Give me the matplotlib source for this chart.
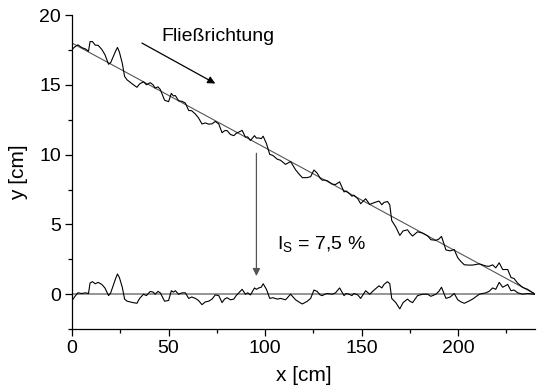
import matplotlib
matplotlib.use("Agg")
import matplotlib.pyplot as plt
from matplotlib.ticker import MultipleLocator

plt.rcParams['font.family'] = ['Liberation Sans', 'DejaVu Sans']
plt.rcParams['mathtext.fontset'] = 'custom'
plt.rcParams['mathtext.rm'] = 'Liberation Sans'

# Abweichung des Profils von der Ausgleichsgeraden
x_res = [0, 1.5, 3, 5, 7, 8.5, 9.3, 10.5, 12, 13.5, 15.4, 17, 18.9, 20, 21.5,
         22.5, 23.5, 24.5, 26, 27.2, 28.5, 30, 31.5, 33.6, 35, 37, 38.5, 40.5,
         42, 43, 44.5, 45.7, 47.9, 50, 51.4, 52.5, 53.5, 55.2, 57, 58.7, 60.4,
         62, 63.9, 65.5, 67.3, 69, 70.8, 72.5, 74.2, 76, 77.7, 79, 80.3, 82,
         83.8, 85, 86.4, 88.1, 89.8, 91, 92.4, 94.5, 95.5, 96.7, 98, 99, 100.7,
         102.4, 104, 106.3, 108, 110.6, 113.2, 114.5, 115.8, 118, 119.3, 121.9,
         123.6, 125.3, 127, 128.5, 129.6, 131, 132.2, 134.8, 136.5, 138.6,
         140.9, 142, 143.5, 145, 146, 148, 149.5, 152.1, 154.2, 156.5, 159,
         160.5, 161.6, 163.4, 164.6, 165.6, 167.7, 169.8, 171.5, 173.8, 175,
         176.4, 179, 181.6, 184.2, 185.9, 188.5, 190, 191.4, 193.7, 195.9, 198,
         199.8, 201.5, 203.2, 205.5, 207.5, 211, 214.4, 216, 217.9, 219.5,
         221.3, 223.1, 225.7, 227.4, 229, 230.9, 233.5, 236, 239.5]
y_res = [-0.45, -0.15, 0.1, 0.05, 0.1, 0.05, 0.8, 0.9, 0.75, 0.85, 0.7, 0.45,
         -0.1, 0.1, 0.7, 1.1, 1.45, 1.2, 0.5, -0.35, -0.5, -0.55, -0.6, -0.65,
         -0.3, 0.0, -0.1, 0.2, 0.15, 0.0, 0.2, 0.1, -0.5, -0.45, 0.25, 0.15,
         0.25, 0.0, 0.1, 0.1, -0.3, -0.2, -0.3, -0.45, -0.75, -0.55, -0.5,
         -0.35, -0.05, -0.1, -0.6, -0.35, -0.25, -0.4, -0.35, -0.1, 0.1, 0.35,
         0.0, 0.1, -0.05, 0.45, 0.35, 0.45, 0.5, 0.75, 0.35, -0.3, -0.25,
         -0.35, -0.3, -0.4, 0.0, -0.2, -0.4, -0.6, -0.7, -0.5, -0.3, 0.3, 0.2,
         -0.05, -0.1, 0.0, 0.05, 0.0, 0.1, 0.45, -0.1, 0.05, 0.0, -0.1, 0.05,
         -0.05, -0.3, 0.25, 0.0, 0.3, 0.6, 0.45, 0.7, 0.9, 0.75, -0.3, -0.6,
         -1.05, -0.6, -0.35, -0.5, -0.6, -0.1, 0.0, 0.0, -0.15, 0.0, 0.2, 0.5,
         -0.3, -0.2, 0.05, -0.4, -0.55, -0.65, -0.5, -0.35, 0.0, 0.1, 0.2,
         0.45, 0.35, 0.85, 0.5, 0.7, 0.25, 0.3, 0.1, 0.0, 0.05, 0.0]

# Ausgleichsgerade: Gefaelle 7,5 %
x_fit = [0, 240]
y_fit = [18.0, 0.0]
gefaelle = 0.075

y_prof = [y_fit[0] - gefaelle * xv + r for xv, r in zip(x_res, y_res)]

fig = plt.figure(figsize=(5.38, 3.89), dpi=100)
ax = fig.add_axes([0.134, 0.154, 0.861, 0.807])

ax.axhline(0, color='#8c8c8c', lw=1.3, zorder=1)
ax.plot(x_fit, y_fit, color='#555555', lw=0.8, zorder=2)
ax.plot(x_res, y_res, color='black', lw=0.8, zorder=3)
ax.plot(x_res, y_prof, color='black', lw=0.8, zorder=3)

ax.annotate('', xy=(95.5, 1.3), xytext=(95.5, 10.1),
            arrowprops=dict(arrowstyle='-|>', color='#555555', lw=0.9,
                            mutation_scale=11, shrinkA=0, shrinkB=0))
ax.annotate('', xy=(74.2, 15.1), xytext=(36.2, 18.0),
            arrowprops=dict(arrowstyle='-|>', color='black', lw=0.9,
                            mutation_scale=11, shrinkA=0, shrinkB=0))
ax.text(46.5, 18.5, 'Fließrichtung', fontsize=14, va='center', ha='left')
ax.text(106, 3.2, 'I$_{\\rm S}$ = 7,5 %', fontsize=14, va='baseline', ha='left')

ax.set_xlim(0, 240)
ax.set_ylim(-2.5, 20)
ax.xaxis.set_major_locator(MultipleLocator(50))
ax.xaxis.set_minor_locator(MultipleLocator(25))
ax.yaxis.set_major_locator(MultipleLocator(5))
ax.yaxis.set_minor_locator(MultipleLocator(2.5))
ax.tick_params(which='major', direction='out', length=5, width=0.9,
               labelsize=14, pad=3)
ax.tick_params(which='minor', direction='out', length=3, width=0.9)
ax.spines['top'].set_visible(False)
ax.spines['right'].set_visible(False)
ax.spines['left'].set_linewidth(0.9)
ax.spines['bottom'].set_linewidth(0.9)

ax.set_xlabel('x [cm]', fontsize=15, labelpad=6)
ax.set_ylabel('y [cm]', fontsize=15, labelpad=8)

fig.savefig('out.png', dpi=100)
